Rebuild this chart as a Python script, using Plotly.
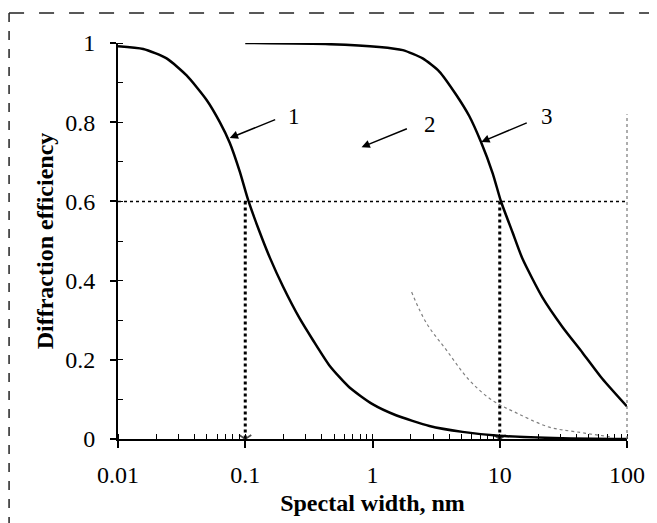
import plotly.graph_objects as go

# ---- data ----
curve1_x = [0.01, 0.0158, 0.0241, 0.0346, 0.0497, 0.0631, 0.0755, 0.0906, 0.105, 0.130, 0.156, 0.198,
            0.267, 0.340, 0.46, 0.66, 1.0, 1.53, 2.8, 5.1, 9.9, 31, 100]
curve1_y = [0.992, 0.985, 0.961, 0.918, 0.856, 0.800, 0.748, 0.675, 0.605, 0.522, 0.458, 0.385,
            0.305, 0.250, 0.185, 0.130, 0.088, 0.060, 0.033, 0.018, 0.008, 0.002, 0.0]

curve2_x = [2.03, 2.65, 3.8, 5.75, 8.7, 13.5, 24.5, 40, 76]
curve2_y = [0.371, 0.293, 0.225, 0.149, 0.098, 0.066, 0.030, 0.018, 0.005]

curve3_x = [0.1, 0.46, 1.13, 1.73, 2.48, 3.35, 4.53, 5.77, 7.1, 8.8, 10.2, 12.6, 15.1, 21.7,
            31.1, 44.7, 64, 100]
curve3_y = [1.0, 0.997, 0.99, 0.982, 0.961, 0.928, 0.870, 0.815, 0.751, 0.671, 0.601, 0.522,
            0.455, 0.357, 0.283, 0.218, 0.152, 0.082]

threshold = 0.6
marker_x = [0.1, 10]

x_tickvals = [0.01, 0.1, 1, 10, 100]
x_ticktext = ["0.01", "0.1", "1", "10", "100"]
y_tickvals = [0, 0.2, 0.4, 0.6, 0.8, 1]
y_ticktext = ["0", "0.2", "0.4", "0.6", "0.8", "1"]

curve_labels = ["1", "2", "3"]
# (head log10 x, head y, tail log10 x, tail y, text log10 x, text y)
label_pos = [(-1.122, 0.760, -0.753, 0.808, -0.62, 0.815),
             (-0.086, 0.737, 0.282, 0.785, 0.45, 0.795),
             (0.855, 0.750, 1.224, 0.800, 1.37, 0.815)]

SERIF = "Liberation Serif, Times New Roman, serif"

fig = go.Figure()

# threshold dotted line
fig.add_trace(go.Scatter(x=[x_tickvals[0], x_tickvals[-1]], y=[threshold, threshold], mode="lines",
                         line=dict(color="black", width=1.5, dash="dot"), showlegend=False))
# vertical dotted arrows
for mx in marker_x:
    fig.add_trace(go.Scatter(x=[mx, mx], y=[threshold, 0], mode="lines+markers",
                             line=dict(color="black", width=3, dash="dot"),
                             marker=dict(symbol="y-down", size=[0, 10], color="black",
                                         line=dict(color="black", width=1.8)),
                             showlegend=False))

fig.add_trace(go.Scatter(x=curve2_x, y=curve2_y, mode="lines",
                         line=dict(color="#808080", width=1.2, dash="dot", shape="spline"),
                         showlegend=False))
fig.add_trace(go.Scatter(x=curve1_x, y=curve1_y, mode="lines",
                         line=dict(color="black", width=2.5, shape="spline", smoothing=0.6),
                         showlegend=False))
fig.add_trace(go.Scatter(x=curve3_x, y=curve3_y, mode="lines",
                         line=dict(color="black", width=2.5, shape="spline", smoothing=0.6),
                         showlegend=False))

annotations = []
for lab, (hx, hy, tx, ty, lx, ly) in zip(curve_labels, label_pos):
    annotations.append(dict(x=hx, y=hy, ax=tx, ay=ty, xref="x", yref="y", axref="x", ayref="y",
                            text="", showarrow=True, arrowhead=2, arrowsize=1.1, arrowwidth=1.5,
                            arrowcolor="black"))
    annotations.append(dict(x=lx, y=ly, xref="x", yref="y", text=lab, showarrow=False,
                            font=dict(family=SERIF, size=23, color="black")))

shapes = [
    # outer scanned frame (top and left edges)
    dict(type="line", xref="paper", yref="paper", x0=-0.214, x1=1.06, y0=1.076, y1=1.076,
         line=dict(color="#222", width=1.5, dash="longdash")),
    dict(type="line", xref="paper", yref="paper", x0=-0.214, x1=-0.214, y0=1.076, y1=-0.22,
         line=dict(color="#222", width=1.5, dash="dash")),
    # faint right frame
    dict(type="line", xref="paper", yref="paper", x0=1.0, x1=1.0, y0=0, y1=0.82,
         line=dict(color="#777", width=1.2, dash="dot")),
]

# the page body has an 8px margin, so the figure is sized to fit the window
fig.update_layout(
    width=649, height=515,
    margin=dict(l=110, r=30, t=35, b=84),
    paper_bgcolor="white", plot_bgcolor="white",
    font=dict(family=SERIF, color="black"),
    annotations=annotations,
    shapes=shapes,
)

fig.update_xaxes(
    type="log", range=[-2, 2], automargin=False,
    tickvals=x_tickvals, ticktext=x_ticktext,
    ticks="outside", ticklen=7, tickwidth=1.5, tickcolor="black",
    ticklabelstandoff=6,
    tickfont=dict(family=SERIF, size=24, color="black"),
    minor=dict(ticks="inside", ticklen=5, tickwidth=1.2, tickcolor="black", dtick="D1", showgrid=False),
    showline=True, linecolor="black", linewidth=2,
    showgrid=False, zeroline=False,
    title=dict(text="<b>Spectal width, nm</b>", font=dict(family=SERIF, size=24, color="black"),
               standoff=7),
)
fig.update_yaxes(
    range=[0, 1], automargin=False,
    tickvals=y_tickvals, ticktext=y_ticktext,
    ticks="outside", ticklen=6, tickwidth=1.5, tickcolor="black",
    ticklabelstandoff=10,
    tickfont=dict(family=SERIF, size=24, color="black"),
    minor=dict(ticks="inside", ticklen=5, tickwidth=1.2, tickcolor="black", dtick=0.1, showgrid=False),
    showline=True, linecolor="black", linewidth=2,
    showgrid=False, zeroline=False,
    title=dict(text="<b>Diffraction efficiency</b>", font=dict(family=SERIF, size=24, color="black"),
               standoff=5),
)

fig.write_html("out.html")
